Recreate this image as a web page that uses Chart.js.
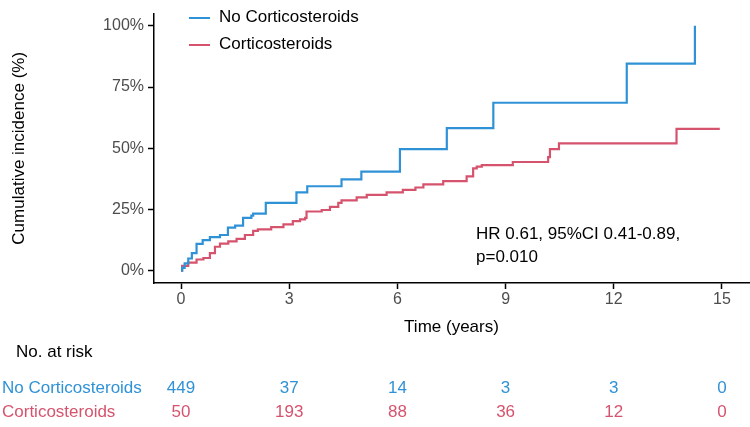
<!DOCTYPE html>
<html>
<head>
<meta charset="utf-8">
<script src="https://cdn.jsdelivr.net/npm/chart.js@4.4.1/dist/chart.umd.min.js"></script>
<style>
  body { margin: 0; background: #fff; }
  canvas { display: block; }
</style>
</head>
<body>
<canvas id="km" width="750" height="427"></canvas>
<script>
// ---------------------------------------------------------------------------
// Data
// ---------------------------------------------------------------------------
const groupNames = ['No Corticosteroids', 'Corticosteroids'];
const groupColors = ['#3092d6', '#d6536e'];

// No Corticosteroids: time (years) and cumulative incidence (%)
const noCsTimes = [0, 0.03, 0.1, 0.2, 0.3, 0.43, 0.6, 0.8, 1.08, 1.3, 1.5, 1.72, 1.95, 2.0,
  2.35, 3.2, 3.5, 4.45, 5.0, 6.07, 7.37, 8.66, 12.36, 14.25];
const noCsInc = [0, 1.2, 3, 5, 7.2, 11, 12.5, 13.7, 14.6, 17.6, 18.4, 21.6, 22.5, 23.3,
  27.7, 32, 34.5, 37.3, 40.5, 49.7, 58.2, 68.6, 84.6, 100];

// Corticosteroids
const csTimes = [0, 0.03, 0.2, 0.43, 0.62, 0.8, 0.94, 1.08, 1.31, 1.54, 1.77, 2.0, 2.13, 2.5,
  2.84, 3.1, 3.3, 3.44, 3.48, 3.9, 4.13, 4.36, 4.45, 4.87, 5.15, 5.7, 6.15, 6.5, 6.72,
  7.27, 7.92, 8.1, 8.2, 8.34, 9.2, 10.18, 10.23, 10.48, 13.74, 14.94];
const csInc = [0, 2, 3.3, 4.6, 5.2, 7.2, 9.8, 11.1, 12, 13, 14.6, 16.3, 16.9, 17.8,
  18.9, 20.3, 21, 21.6, 24.2, 24.8, 26.1, 27.7, 28.7, 30, 31, 32, 33, 34, 35.3,
  36.6, 38.5, 41.8, 42.5, 43.1, 44.4, 46.4, 49.7, 52, 57.9, 57.9];

// Axis ticks
const xTicks = [0, 3, 6, 9, 12, 15];
const yTicks = [0, 25, 50, 75, 100];

// Number at risk table
const riskTimes = [0, 3, 6, 9, 12, 15];
const riskNoCs = [449, 37, 14, 3, 3, 0];
const riskCs = [50, 193, 88, 36, 12, 0];

const hrText = ['HR 0.61, 95%CI 0.41-0.89,', 'p=0.010'];

// ---------------------------------------------------------------------------
const FONT = '"Liberation Sans", Arial, Helvetica, sans-serif';

const toPoints = (ts, vs) => ts.map((t, i) => ({ x: t, y: vs[i] }));

// legend, HR annotation and the risk table drawn on top of the chart
const extrasPlugin = {
  id: 'extras',
  afterDraw(chart) {
    const ctx = chart.ctx;
    const xs = chart.scales.x;
    ctx.save();
    ctx.font = '17px ' + FONT;
    ctx.textBaseline = 'middle';

    // legend
    groupNames.forEach((name, i) => {
      const y = 17 + i * 27;
      ctx.strokeStyle = groupColors[i];
      ctx.lineWidth = 2;
      ctx.beginPath();
      ctx.moveTo(189, y + 1);
      ctx.lineTo(210, y + 1);
      ctx.stroke();
      ctx.fillStyle = '#000';
      ctx.textAlign = 'left';
      ctx.fillText(name, 219, y);
    });

    // hazard ratio text
    ctx.fillStyle = '#000';
    ctx.fillText(hrText[0], 476, 234);
    ctx.fillText(hrText[1], 476, 257);

    // number at risk
    ctx.fillText('No. at risk', 16, 352);
    [riskNoCs, riskCs].forEach((row, i) => {
      const y = 388 + i * 24;
      ctx.fillStyle = groupColors[i];
      ctx.textAlign = 'left';
      ctx.fillText(groupNames[i], 2, y);
      ctx.textAlign = 'center';
      row.forEach((n, j) => {
        ctx.fillText(String(n), xs.getPixelForValue(riskTimes[j]), y);
      });
    });
    ctx.restore();
  }
};

new Chart(document.getElementById('km'), {
  type: 'line',
  data: {
    datasets: [
      {
        label: groupNames[0],
        data: toPoints(noCsTimes, noCsInc),
        borderColor: groupColors[0],
        borderWidth: 2.2,
        stepped: 'before',
        pointRadius: 0,
        fill: false
      },
      {
        label: groupNames[1],
        data: toPoints(csTimes, csInc),
        borderColor: groupColors[1],
        borderWidth: 2.2,
        stepped: 'before',
        pointRadius: 0,
        fill: false
      }
    ]
  },
  options: {
    responsive: false,
    animation: false,
    devicePixelRatio: 1,
    layout: { padding: { top: 2, right: 1, bottom: 84, left: 0 } },
    plugins: {
      legend: { display: false },
      tooltip: { enabled: false }
    },
    scales: {
      x: {
        type: 'linear',
        min: -0.75,
        max: 15.75,
        afterBuildTicks: (axis) => { axis.ticks = xTicks.map(v => ({ value: v })); },
        afterFit: (axis) => { axis.height = 60; },
        ticks: {
          color: '#4d4d4d',
          font: { family: FONT, size: 16 },
          padding: 1,
          maxRotation: 0
        },
        grid: { drawOnChartArea: false, drawTicks: true, tickLength: 6, color: '#000', tickWidth: 1.5 },
        border: { display: true, color: '#000', width: 1.5 },
        title: {
          display: true,
          text: 'Time (years)',
          color: '#000',
          font: { family: FONT, size: 17 },
          padding: { top: 0, bottom: 5 }
        }
      },
      y: {
        type: 'linear',
        min: -5,
        max: 105,
        afterBuildTicks: (axis) => { axis.ticks = yTicks.map(v => ({ value: v })); },
        afterFit: (axis) => { axis.width = 154; },
        ticks: {
          color: '#4d4d4d',
          font: { family: FONT, size: 16 },
          padding: 4,
          callback: (v) => v + '%'
        },
        grid: { drawOnChartArea: false, drawTicks: true, tickLength: 6, color: '#000', tickWidth: 1.5 },
        border: { display: true, color: '#000', width: 1.5 },
        title: {
          display: true,
          text: 'Cumulative incidence (%)',
          color: '#000',
          font: { family: FONT, size: 17 },
          padding: { top: 9, bottom: 0 }
        }
      }
    }
  },
  plugins: [extrasPlugin]
});
</script>
</body>
</html>
